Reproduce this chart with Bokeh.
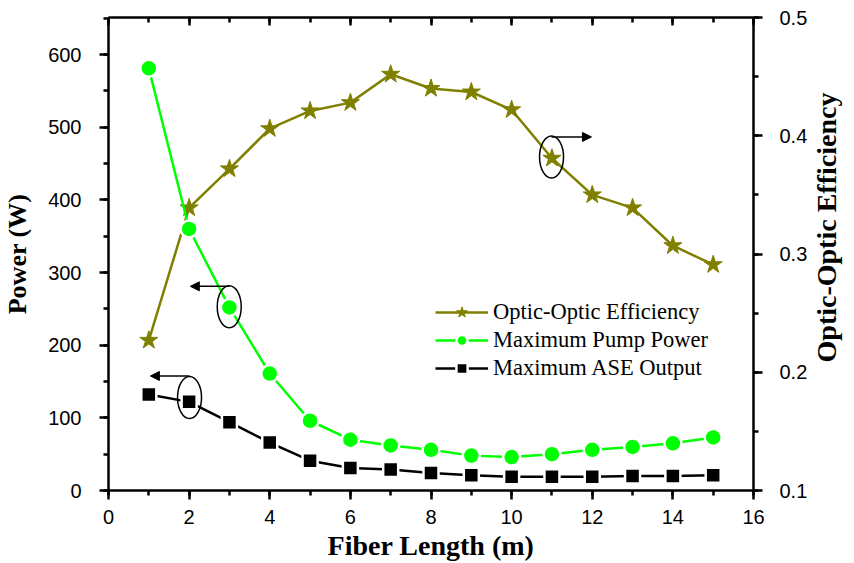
import math
from bokeh.plotting import figure
from bokeh.layouts import row
from bokeh.models import (LinearAxis, Range1d, SingleIntervalTicker, Legend,
                          LegendItem, Arrow, NormalHead, Label,
                          CustomLabelingPolicy)
from bokeh.embed import file_html
from bokeh.resources import INLINE

# ---- data ----
fiber_length = [1, 2, 3, 4, 5, 6, 7, 8, 9, 10, 11, 12, 13, 14, 15]
pump_power = [581, 360, 252, 161, 96, 70, 62, 56, 48, 46, 50, 56, 60, 65, 73]
ase_output = [132, 122, 94, 66, 41, 31, 29, 24, 21, 19, 19, 19, 20, 20, 21]
efficiency = [0.227, 0.339, 0.372, 0.406, 0.421, 0.428, 0.452, 0.440,
              0.437, 0.422, 0.381, 0.350, 0.339, 0.307, 0.291]

x_ticks_interval = 2
power_ticks_interval = 100
eff_ticks_interval = 0.1

OLIVE = "#808000"
GREEN = "#00FF00"
TICK_FONT = "Liberation Sans"
SERIF = "Liberation Serif"

p = figure(width=810, height=563, x_range=(0, 16), y_range=(0, 651),
           output_backend="svg", toolbar_location=None,
           min_border_left=108, min_border_right=53,
           min_border_top=17, min_border_bottom=71)
p.extra_y_ranges = {"eff": Range1d(0.1, 0.5)}
p.xgrid.visible = False
p.ygrid.visible = False
p.outline_line_color = None
p.background_fill_color = "white"
p.border_fill_color = "white"


def style_axis(ax):
    ax.axis_line_width = 2.5
    ax.axis_line_color = "black"
    ax.major_tick_line_width = 2.5
    ax.minor_tick_line_width = 2.5
    ax.major_tick_line_color = "black"
    ax.minor_tick_line_color = "black"
    ax.major_tick_out = 9
    ax.major_tick_in = 0
    ax.minor_tick_out = 5
    ax.minor_tick_in = 0
    ax.major_label_text_font = TICK_FONT
    ax.major_label_text_font_size = "20px"
    ax.major_label_text_color = "black"
    ax.axis_label_text_font = SERIF
    ax.axis_label_text_font_style = "bold"
    ax.axis_label_text_font_size = "28px"
    ax.axis_label_text_color = "black"


# bottom axis
xa = p.xaxis[0]
xa.ticker = SingleIntervalTicker(interval=x_ticks_interval, num_minor_ticks=2)
style_axis(xa)
xa.axis_label = "Fiber Length (m)"
xa.major_label_standoff = 10
xa.axis_label_standoff = 3

# left axis
ya = p.yaxis[0]
ya.ticker = SingleIntervalTicker(interval=power_ticks_interval, num_minor_ticks=2)
style_axis(ya)
ya.axis_label = "Power (W)"
ya.axis_label_text_font_size = "26px"
ya.major_label_standoff = 18
ya.axis_label_standoff = 13

# right axis (its title is drawn in a narrow side panel so it reads bottom-to-top)
ra = LinearAxis(y_range_name="eff",
                ticker=SingleIntervalTicker(interval=eff_ticks_interval, num_minor_ticks=2))
style_axis(ra)
ra.major_label_standoff = 17
p.add_layout(ra, "right")

# top axis (mirror, ticks inward, no labels)
ta = LinearAxis(ticker=SingleIntervalTicker(interval=x_ticks_interval, num_minor_ticks=2))
style_axis(ta)
ta.major_tick_out = 0
ta.minor_tick_out = 0
ta.major_tick_in = 8
ta.minor_tick_in = 5
ta.major_label_text_font_size = "1px"
ta.major_label_standoff = 0
ta.major_label_policy = CustomLabelingPolicy(
    code="for (const i of indices) { indices.unset(i) }\nreturn indices")
p.add_layout(ta, "above")

# ---- series ----
eff_line = p.line(fiber_length, efficiency, y_range_name="eff",
                  line_color=OLIVE, line_width=2.5)
eff_pts = p.scatter(fiber_length, efficiency, y_range_name="eff", marker="star",
                    size=19, fill_color=OLIVE, line_color=OLIVE)

pump_line = p.line(fiber_length, pump_power, line_color=GREEN, line_width=2.5)
pump_pts = p.scatter(fiber_length, pump_power, marker="circle", size=17,
                     fill_color=GREEN, line_color="white", line_width=2.5)

ase_line = p.line(fiber_length, ase_output, line_color="black", line_width=2.5)
ase_pts = p.scatter(fiber_length, ase_output, marker="square", size=15,
                    fill_color="black", line_color="white", line_width=2.5)

# ---- annotation ellipses & arrows ----
p.ellipse(x=[10.99], y=[0.382], width=24, height=42, width_units="screen",
          height_units="screen", fill_color=None, line_color="black",
          line_width=1.5, y_range_name="eff")
p.add_layout(Arrow(x_start=10.99, y_start=0.399, x_end=11.98, y_end=0.399,
                   y_range_name="eff", line_width=1.5, line_color="black",
                   end=NormalHead(size=9, fill_color="black", line_color="black")))

p.ellipse(x=[2.995, 2.01], y=[252.8, 128], width=24, height=42,
          width_units="screen", height_units="screen", fill_color=None,
          line_color="black", line_width=1.5)
p.add_layout(Arrow(x_start=2.995, y_start=281, x_end=2.03, y_end=281,
                   line_width=1.5, line_color="black",
                   end=NormalHead(size=9, fill_color="black", line_color="black")))
p.add_layout(Arrow(x_start=2.01, y_start=157.6, x_end=1.04, y_end=157.6,
                   line_width=1.5, line_color="black",
                   end=NormalHead(size=9, fill_color="black", line_color="black")))

# ---- legend ----
legend = Legend(items=[
    LegendItem(label="Optic-Optic Efficiency", renderers=[eff_line, eff_pts]),
    LegendItem(label="Maximum Pump Power", renderers=[pump_line, pump_pts]),
    LegendItem(label="Maximum ASE Output", renderers=[ase_line, ase_pts]),
], location=(327, 108), glyph_width=53, glyph_height=28, label_height=28,
    spacing=0, padding=0, margin=0, border_line_color=None,
    background_fill_alpha=0, label_text_font=SERIF, label_text_font_size="22.5px",
    label_text_color="black", label_standoff=5)
p.add_layout(legend)

# ---- narrow side panel carrying the right-axis title ----
side = figure(width=44, height=563, x_range=(0, 44), y_range=(0, 563),
              output_backend="svg", toolbar_location=None,
              x_axis_type=None, y_axis_type=None,
              min_border_left=0, min_border_right=0,
              min_border_top=0, min_border_bottom=0)
side.xgrid.visible = False
side.ygrid.visible = False
side.outline_line_color = None
side.background_fill_color = "white"
side.border_fill_color = "white"
side.add_layout(Label(x=16, y=313, text="Optic-Optic Efficiency",
                      angle=math.pi / 2, text_align="center",
                      text_baseline="middle", text_font=SERIF,
                      text_font_style="bold", text_font_size="28px",
                      text_color="black"))

layout = row(p, side, spacing=0)
open("out.html", "w").write(file_html(layout, INLINE))
